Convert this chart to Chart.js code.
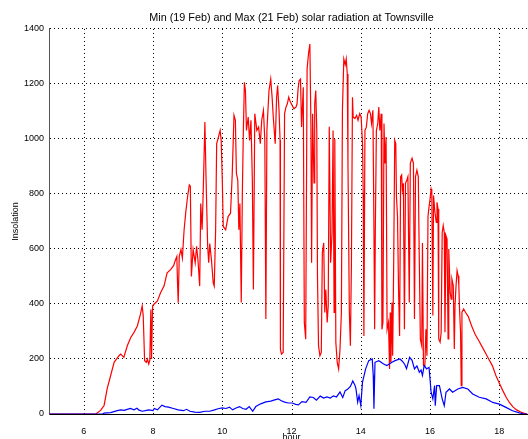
<!DOCTYPE html>
<html>
<head>
<meta charset="utf-8">
<script src="https://cdn.jsdelivr.net/npm/chart.js@4/dist/chart.umd.min.js"></script>
<style>
  html, body { margin: 0; padding: 0; background: #fff; overflow: hidden; }
  canvas { display: block; }
</style>
</head>
<body>
<!-- plot runs on to hour 19, a few px past the right edge of the window, like the cropped original -->
<canvas id="chart" width="534" height="439" style="width:534px;height:439px"></canvas>
<script>
// ---------- DATA ----------
const chartTitle = 'Min (19 Feb) and Max (21 Feb) solar radiation at Townsville';
const xTitle = 'hour';
const yTitle = 'Insolation';
const xTickValues = [6, 8, 10, 12, 14, 16, 18];

// 21 Feb (max) - red
const hoursRed = [
  5.0, 6.3, 6.35, 6.49, 6.59, 6.68, 6.78, 6.88, 7.02, 7.07, 7.16, 7.26, 7.36, 7.45, 7.55, 7.64, 7.69, 7.72, 7.76, 7.81,
  7.84, 7.88, 7.91, 7.94, 7.96, 7.99, 8.03, 8.13, 8.22, 8.32, 8.41, 8.51, 8.6, 8.65, 8.69, 8.71, 8.73, 8.76, 8.81, 8.85,
  8.9, 8.95, 9.0, 9.05, 9.08, 9.11, 9.16, 9.22, 9.26, 9.3, 9.35, 9.38, 9.42, 9.45, 9.5, 9.53, 9.58, 9.61, 9.64, 9.69,
  9.74, 9.77, 9.81, 9.84, 9.89, 9.94, 9.97, 10.0, 10.03, 10.1, 10.17, 10.24, 10.29, 10.34, 10.38, 10.41, 10.45, 10.48, 10.51, 10.55,
  10.58, 10.61, 10.64, 10.67, 10.7, 10.75, 10.79, 10.83, 10.87, 10.9, 10.94, 11.0, 11.05, 11.1, 11.14, 11.19, 11.23, 11.26, 11.29, 11.35,
  11.4, 11.44, 11.48, 11.53, 11.57, 11.6, 11.64, 11.67, 11.68, 11.71, 11.76, 11.8, 11.84, 11.88, 11.92, 11.95, 12.02, 12.07, 12.13, 12.16,
  12.19, 12.22, 12.26, 12.29, 12.34, 12.37, 12.41, 12.45, 12.49, 12.53, 12.56, 12.58, 12.61, 12.65, 12.67, 12.7, 12.73, 12.75, 12.78, 12.82,
  12.86, 12.89, 12.93, 12.96, 12.99, 13.03, 13.06, 13.09, 13.13, 13.17, 13.2, 13.23, 13.25, 13.28, 13.32, 13.36, 13.4, 13.44, 13.47, 13.51,
  13.55, 13.58, 13.61, 13.63, 13.67, 13.7, 13.73, 13.76, 13.78, 13.83, 13.88, 13.92, 13.97, 14.01, 14.05, 14.07, 14.09, 14.12, 14.16, 14.2,
  14.24, 14.28, 14.31, 14.35, 14.38, 14.4, 14.42, 14.45, 14.49, 14.52, 14.55, 14.59, 14.61, 14.64, 14.67, 14.7, 14.73, 14.76, 14.8, 14.83,
  14.85, 14.87, 14.9, 14.92, 14.95, 14.98, 15.01, 15.03, 15.06, 15.09, 15.12, 15.15, 15.18, 15.2, 15.23, 15.26, 15.29, 15.33, 15.36, 15.4,
  15.43, 15.46, 15.48, 15.52, 15.55, 15.58, 15.62, 15.66, 15.69, 15.72, 15.76, 15.78, 15.81, 15.85, 15.88, 15.91, 15.94, 15.96, 16.0, 16.03,
  16.05, 16.08, 16.1, 16.14, 16.18, 16.2, 16.23, 16.25, 16.29, 16.32, 16.35, 16.38, 16.41, 16.43, 16.46, 16.49, 16.52, 16.54, 16.58, 16.61,
  16.63, 16.67, 16.7, 16.72, 16.75, 16.78, 16.81, 16.83, 16.85, 16.88, 16.9, 16.92, 16.97, 17.02, 17.1, 17.2, 17.3, 17.4, 17.5, 17.6,
  17.7, 17.8, 17.9, 18.0, 18.1, 18.2, 18.3, 18.4, 18.5, 18.6, 18.7, 18.8
];
const redValues = [
  0, 0, 0, 13, 31, 92, 140, 188, 212, 218, 206, 248, 278, 296, 320, 363, 393, 357, 194, 188,
  200, 182, 196, 380, 200, 393, 399, 411, 441, 465, 513, 525, 540, 560, 573, 477, 405, 573, 598, 567,
  670, 736, 790, 833, 828, 500, 598, 550, 610, 560, 465, 765, 670, 800, 1062, 875, 610, 550, 620, 560,
  477, 465, 670, 983, 1007, 1031, 995, 863, 682, 670, 718, 730, 875, 1086, 1068, 875, 850, 670, 765, 405,
  790, 1031, 1206, 1176, 1031, 1080, 995, 1068, 850, 453, 1092, 1031, 1043, 983, 1068, 1104, 995, 345, 1031, 1176,
  1218, 1152, 1068, 983, 1152, 1194, 1104, 995, 236, 218, 224, 1092, 1116, 1128, 1152, 1140, 1122, 1110, 1116, 1128,
  1182, 1212, 1218, 1044, 1188, 333, 272, 1254, 1309, 1345, 1056, 550, 1092, 840, 1128, 1176, 1031, 501, 248, 212,
  224, 586, 622, 369, 453, 333, 393, 1044, 550, 658, 1031, 369, 1000, 260, 188, 164, 236, 369, 1104, 1291,
  1270, 1291, 1236, 911, 369, 248, 550, 1152, 1080, 1074, 1086, 1068, 1092, 1080, 983, 802, 284, 1031, 1043, 1092,
  1104, 1092, 1056, 1104, 670, 308, 670, 1031, 1056, 1116, 1031, 1092, 308, 333, 1056, 911, 1007, 308, 333, 164,
  369, 188, 405, 212, 550, 995, 983, 790, 718, 453, 284, 863, 869, 815, 839, 308, 839, 851, 863, 405,
  911, 923, 930, 911, 345, 863, 887, 863, 550, 272, 248, 622, 176, 176, 308, 212, 718, 742, 782, 818,
  806, 358, 794, 733, 697, 770, 745, 273, 261, 297, 660, 685, 660, 297, 648, 636, 273, 600, 442, 418,
  491, 467, 236, 394, 467, 521, 503, 467, 382, 297, 103, 370, 382, 370, 355, 320, 290, 268, 245, 222,
  198, 175, 140, 112, 85, 60, 40, 25, 15, 8, 3, 0
];

// 19 Feb (min) - blue
const hoursBlue = [
  5.0, 6.55, 6.59, 6.78, 6.97, 7.07, 7.17, 7.26, 7.35, 7.45, 7.54, 7.6, 7.69, 7.78, 7.88, 8.0, 8.04, 8.13, 8.26, 8.35,
  8.45, 8.59, 8.73, 8.88, 8.97, 9.07, 9.21, 9.35, 9.5, 9.64, 9.78, 9.88, 10.0, 10.11, 10.21, 10.3, 10.4, 10.5, 10.59, 10.69,
  10.78, 10.88, 10.97, 11.11, 11.26, 11.4, 11.54, 11.62, 11.69, 11.78, 11.9, 12.02, 12.12, 12.2, 12.3, 12.42, 12.53, 12.63, 12.72, 12.83,
  12.93, 13.02, 13.12, 13.21, 13.3, 13.4, 13.48, 13.55, 13.62, 13.7, 13.77, 13.83, 13.86, 13.91, 13.95, 14.0, 14.05, 14.14, 14.23, 14.33,
  14.36, 14.38, 14.41, 14.52, 14.66, 14.75, 14.8, 14.9, 14.99, 15.13, 15.2, 15.27, 15.32, 15.41, 15.48, 15.55, 15.62, 15.69, 15.74, 15.78,
  15.83, 15.9, 15.97, 16.03, 16.08, 16.13, 16.15, 16.19, 16.27, 16.35, 16.41, 16.46, 16.56, 16.65, 16.8, 16.94, 17.09, 17.23, 17.42, 17.62,
  17.81, 18.0, 18.19, 18.38, 18.58, 18.71, 18.8
];
const blueValues = [
  0, 0, 3, 5, 12, 15, 13, 17, 20, 15, 21, 14, 10, 12, 15, 12, 20, 15, 32, 27,
  25, 20, 15, 12, 17, 10, 7, 6, 10, 10, 15, 19, 22, 20, 25, 15, 22, 27, 20, 17,
  27, 10, 27, 37, 44, 47, 52, 55, 49, 44, 40, 40, 35, 33, 45, 42, 62, 60, 50, 65,
  58, 62, 58, 66, 62, 80, 60, 85, 90, 100, 120, 105, 92, 43, 67, 31, 116, 164, 194, 200,
  140, 19, 188, 194, 182, 176, 180, 188, 194, 200, 192, 180, 165, 206, 195, 164, 175, 152, 160, 140,
  176, 164, 170, 79, 55, 103, 30, 103, 103, 55, 30, 79, 91, 79, 91, 97, 91, 73, 61, 55,
  42, 36, 24, 12, 4, 0, 0
];

// ---------- HELPERS ----------
const FONT = 'Liberation Sans, Arial, Helvetica, sans-serif';
const toPoints = (xs, ys) => xs.map((x, i) => ({ x, y: ys[i] }));

// vertical dotted grid lines on the listed hours
const hourGrid = {
  id: 'hourGrid',
  beforeDatasetsDraw(chart) {
    const { ctx, chartArea: a, scales: { x } } = chart;
    ctx.save();
    ctx.strokeStyle = '#000';
    ctx.lineWidth = 1;
    ctx.setLineDash([1, 3]);
    xTickValues.forEach(v => {
      const px = Math.round(x.getPixelForValue(v)) + 0.5;
      ctx.beginPath();
      ctx.moveTo(px, a.top);
      ctx.lineTo(px, a.bottom);
      ctx.stroke();
    });
    ctx.restore();
  }
};

// ---------- CHART ----------
new Chart(document.getElementById('chart'), {
  type: 'line',
  data: {
    datasets: [
      { label: 'Min (19 Feb)', data: toPoints(hoursBlue, blueValues), borderColor: '#0000ff',
        borderWidth: 1.2, pointRadius: 0, tension: 0, fill: false, order: 1 },
      { label: 'Max (21 Feb)', data: toPoints(hoursRed, redValues), borderColor: '#ff0000',
        borderWidth: 1.2, pointRadius: 0, tension: 0, fill: false, order: 2 }
    ]
  },
  options: {
    responsive: false,
    animation: false,
    devicePixelRatio: 1,
    layout: { padding: 0 },
    plugins: {
      legend: { display: false },
      tooltip: { enabled: false },
      title: {
        display: true, text: chartTitle, fullSize: false, color: '#000',
        font: { family: FONT, size: 10.8, weight: 'normal' },
        padding: { top: 12, bottom: 4 }
      }
    },
    scales: {
      x: {
        type: 'linear', min: 5, max: 19,
        afterBuildTicks: s => { s.ticks = xTickValues.map(v => ({ value: v })); },
        afterFit: s => { s.height = 25; },
        ticks: { color: '#000', font: { family: FONT, size: 9 }, padding: 4, maxRotation: 0, autoSkip: false,
                 callback: v => String(v) },
        grid: { display: false },
        border: { display: true, color: '#000', width: 1 },
        title: { display: true, text: xTitle, color: '#000', font: { family: FONT, size: 9 }, padding: { top: 0, bottom: -4 } }
      },
      y: {
        min: 0, max: 1400,
        afterFit: s => { s.width = 49; },
        ticks: { stepSize: 200, color: '#000', font: { family: FONT, size: 9 }, padding: 5,
                 callback: v => String(v) },
        grid: { color: '#000', lineWidth: 1, drawTicks: false },
        border: { display: true, color: '#555', width: 1, dash: [1, 3] },
        title: { display: true, text: yTitle, color: '#000', font: { family: FONT, size: 9 }, padding: { top: 10, bottom: 0 } }
      }
    }
  },
  plugins: [hourGrid]
});
</script>
</body>
</html>
